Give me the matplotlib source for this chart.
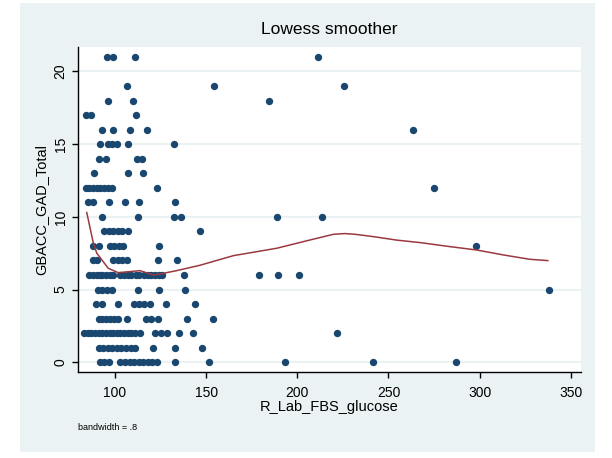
import matplotlib
matplotlib.use("Agg")
import matplotlib.pyplot as plt
from matplotlib.patches import Rectangle

plt.rcParams['font.family'] = ['Liberation Sans', 'DejaVu Sans']

# scatter data, one row per GAD total score
fbs_glucose = (
    [95.6, 98.9, 111, 211.4] +                                  # 21
    [106.6, 154.3, 225.6] +                                     # 19
    [96.2, 109.7, 184.5] +                                      # 18
    [84, 87, 111.5] +                                           # 17
    [93, 99, 108, 117.5, 263.5] +                               # 16
    [92, 96, 98.5, 101, 107, 132.5] +                           # 15
    [91, 95, 112, 115] +                                        # 14
    [88.5, 107, 115.4] +                                        # 13
    [84, 86, 88, 90, 92, 94, 96, 98.5, 123, 275] +              # 12
    [85, 88, 96.5, 105.5, 113, 133] +                           # 11
    [93, 112.5, 132.5, 136, 189, 213.5] +                       # 10
    [94, 96.5, 99, 101.5, 104, 107, 146.6] +                    # 9
    [88, 91, 97, 99.5, 102, 104.5, 124, 298] +                  # 8
    [88, 90, 99, 101.5, 104, 106.5, 123.5, 134] +               # 7
    [86, 88, 90, 91.5, 93, 95, 97, 99, 103, 105, 107, 109,
     111.5, 113, 116, 118, 120, 122, 124, 126, 138, 179,
     189.5, 201] +                                              # 6
    [90.5, 93, 95.5, 98.5, 112.5, 124, 138.5, 338] +            # 5
    [89.5, 93, 101.5, 110.5, 113, 116, 119, 128, 144] +         # 4
    [91, 93, 95, 97.5, 99.5, 101.5, 106.5, 117, 120, 123.5,
     139.5, 154] +                                              # 3
    [83, 85, 87, 89, 91, 93, 95, 97, 99, 101, 103, 105, 107,
     109, 111, 113.5, 122, 125, 128.5, 135, 143, 222] +         # 2
    [91, 93.5, 96, 98.5, 101, 103.5, 106, 108.5, 111, 121,
     133, 147.5] +                                              # 1
    [91.5, 94, 96.5, 103, 105.5, 108, 110.5, 113, 115.5, 118,
     120.5, 123, 133, 151.5, 193, 241.5, 287]                   # 0
)
row_scores = [21, 19, 18, 17, 16, 15, 14, 13, 12, 11, 10, 9, 8, 7, 6, 5, 4, 3, 2, 1, 0]
row_counts = [4, 3, 3, 3, 5, 6, 4, 3, 10, 6, 6, 7, 8, 8, 24, 8, 9, 12, 22, 12, 17]
gad_total = [s for s, n in zip(row_scores, row_counts) for _ in range(n)]

# lowess fit (bandwidth .8)
lowess_x = [84.5, 88.1, 90, 96.3, 101.8, 113.7, 121, 124.7, 133.8, 146.6,
            164.9, 188.7, 207, 219.8, 226, 231.6, 241.7, 254.5, 267.3,
            283.8, 298.4, 313, 327.6, 337.4]
lowess_y = [10.3, 8.2, 7.5, 6.46, 6.16, 6.3, 6.0, 6.07, 6.3, 6.67,
            7.33, 7.84, 8.41, 8.8, 8.85, 8.8, 8.64, 8.4, 8.23,
            7.95, 7.72, 7.38, 7.08, 6.99]

bg = '#eaf2f3'
navy = '#1a476f'
maroon = '#9a3a40'

fig = plt.figure(figsize=(6.12, 4.58), dpi=100, facecolor='white')
panel = Rectangle((20 / 612, 1 - 452 / 458), 575 / 612, 449 / 458,
                  transform=fig.transFigure, facecolor=bg, edgecolor='none')
panel.set_zorder(-10)
fig.add_artist(panel)

ax = fig.add_axes([78 / 612, 1 - 372 / 458, 503 / 612, 325 / 458])
ax.set_zorder(1)
ax.set_facecolor('white')

ax.scatter(fbs_glucose, gad_total, s=28, color=navy, marker='o',
           linewidths=0, zorder=3)
ax.plot(lowess_x, lowess_y, color=maroon, lw=1.1, zorder=4)

ax.set_xlim(79.7, 355.6)
ax.set_ylim(-0.67, 21.68)
ax.set_xticks([100, 150, 200, 250, 300, 350])
ax.set_yticks([0, 5, 10, 15, 20])
ax.grid(axis='y', color=bg, lw=1.5, zorder=1)
ax.set_axisbelow(True)

for side in ['top', 'right']:
    ax.spines[side].set_visible(False)
for side in ['left', 'bottom']:
    ax.spines[side].set_color('black')
    ax.spines[side].set_linewidth(1.0)

ax.tick_params(axis='both', direction='out', length=4, width=1,
               labelsize=10, colors='black')
ax.tick_params(axis='x', pad=6)
plt.setp(ax.get_yticklabels(), rotation=90, va='center')

ax.set_title('Lowess smoother', fontsize=12.5, pad=9)
ax.set_xlabel('R_Lab_FBS_glucose', fontsize=10.5, labelpad=0)
ax.set_ylabel('GBACC_GAD_Total', fontsize=10.5, labelpad=4)

fig.text(78 / 612, 1 - 427 / 458, 'bandwidth = .8', fontsize=6.5,
         va='center', ha='left')

fig.savefig('out.png', dpi=100, facecolor='white')
